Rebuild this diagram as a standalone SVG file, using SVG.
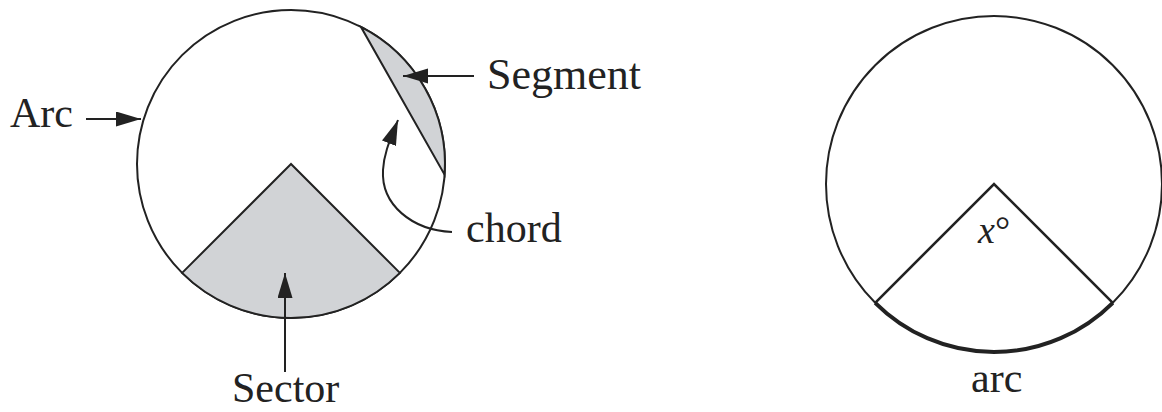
<svg xmlns="http://www.w3.org/2000/svg" width="1162" height="412" viewBox="0 0 1162 412">
  <style>
    .outline { fill: #ffffff; stroke: #222222; stroke-width: 2; }
    .shade { fill: #d1d3d6; stroke: #222222; stroke-width: 2; stroke-linejoin: miter; }
    .conn { fill: none; stroke: #222222; stroke-width: 2; }
    .lbl { font-family: "Liberation Serif", "Times New Roman", serif; font-size: 42px; fill: #222222; }
    .radius { fill: none; stroke: #222222; stroke-width: 2.6; stroke-linejoin: miter; }
    .thickarc { fill: none; stroke: #222222; stroke-width: 4; stroke-linecap: butt; }
  </style>
  <defs>
    <marker id="ah" markerUnits="userSpaceOnUse" markerWidth="26" markerHeight="16" refX="25" refY="7.5" orient="auto">
      <path d="M0,0 L25,7.5 L0,15 Z" fill="#222222"/>
    </marker>
  </defs>

  <g id="left-circle">
    <circle class="outline" cx="291" cy="164" r="154"/>
    <path id="sector" class="shade" d="M291,164 L182.1,272.9 A154,154 0 0 0 399.9,272.9 Z"/>
    <path id="segment" class="shade" d="M360.9,26.8 A154,154 0 0 1 444.6,174.7 Z"/>
  </g>

  <g id="label-arc">
    <text class="lbl" x="10" y="127">Arc</text>
  </g>
  <g id="label-segment">
    <text class="lbl" x="487" y="89" style="font-size:44px">Segment</text>
  </g>
  <g id="label-chord">
    <text class="lbl" x="466" y="242">chord</text>
  </g>
  <g id="label-sector">
    <text class="lbl" x="232" y="402">Sector</text>
  </g>

  <g id="right-circle">
    <circle class="outline" cx="994" cy="184" r="168"/>
    <path class="radius" d="M875.2,302.8 L994,184 L1112.8,302.8"/>
    <path class="thickarc" d="M875.2,302.8 A168,168 0 0 0 1112.8,302.8"/>
    <text class="lbl" x="978" y="243" style="font-size:38px"><tspan font-style="italic">x</tspan>°</text>
  </g>
  <g id="label-arc-right">
    <text class="lbl" x="971" y="392">arc</text>
  </g>

  <g id="connectors">
    <path class="conn" d="M86,119 L141,119" marker-end="url(#ah)"/>
    <path class="conn" d="M474,76 L403,76" marker-end="url(#ah)"/>
    <path class="conn" d="M285,372 L285,273" marker-end="url(#ah)"/>
    <path class="conn" d="M452,232 C412,230 381,205 383,170 C384,152 391,138 398,120" marker-end="url(#ah)"/>
  </g>
</svg>
